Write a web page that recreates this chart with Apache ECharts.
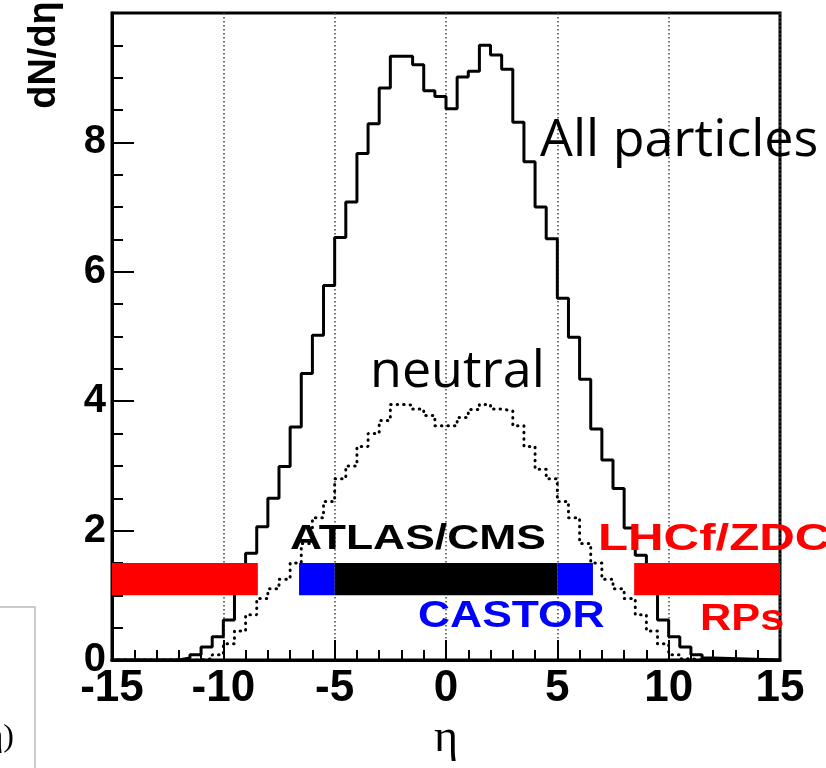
<!DOCTYPE html>
<html><head><meta charset="utf-8">
<script src="https://cdn.jsdelivr.net/npm/echarts@6/dist/echarts.min.js"></script>
<style>html,body{margin:0;padding:0;background:#fff}#c{width:826px;height:768px}</style>
</head><body><div id="c"></div>
<script>
// bin edges (eta) of the histograms
const etaEdges = [-12,-11.5,-11,-10.5,-10,-9.5,-9,-8.5,-8,-7.5,-7,-6.5,-6,-5.5,-5,-4.5,-4,-3.5,-3,-2.5,-2,-1.5,-1,-0.5,
  0,0.5,1,1.5,2,2.5,3,3.5,4,4.5,5,5.5,6,6.5,7,7.5,8,8.5,9,9.5,10,10.5,11,11.5,12];
// dN/deta, all particles (one value per bin)
const allParticles = [0.03,0.08,0.2,0.36,0.62,1.25,1.65,2.06,2.5,2.99,3.6,4.43,
  5.02,5.79,6.53,7.08,7.83,8.29,8.84,9.33,9.33,9.2,8.8,8.71,
  8.52,9.01,9.1,9.5,9.35,9.13,8.31,7.7,7.0,6.51,5.59,4.99,
  4.34,3.57,3.09,2.65,2.04,1.62,1.25,0.62,0.36,0.2,0.08,0.03];
// dN/deta, neutral particles
const neutral = [0,0,0.02,0.08,0.25,0.45,0.7,0.95,1.1,1.25,1.5,1.8,
  2.2,2.45,2.8,3.0,3.3,3.5,3.7,3.95,3.94,3.88,3.78,3.62,
  3.62,3.75,3.87,3.95,3.88,3.85,3.62,3.3,2.95,2.8,2.45,2.2,
  1.8,1.5,1.25,1.1,0.95,0.7,0.45,0.25,0.08,0.02,0,0];
// detector acceptance bands
const bandNames = ['LHCf/ZDC','CASTOR','ATLAS/CMS','CASTOR','LHCf/ZDC'];
const bandFrom = [-15,-6.6,-5,5,8.45];
const bandTo = [-8.45,-5,5,6.6,15];
const bandLow = [1.0,1.0,1.0,1.0,1.0];
const bandHigh = [1.5,1.5,1.5,1.5,1.5];
// tick labels
const xTickLabels = [-15,-10,-5,0,5,10,15];
const yTickLabels = [0,2,4,6,8];

const bandColors = {'LHCf/ZDC':'#ff0000','CASTOR':'#0000ff','ATLAS/CMS':'#000000'};

function histData(vals){
  const d = [[-15,0]];
  for (let i=0;i<vals.length;i++) d.push([etaEdges[i], vals[i]]);
  d.push([etaEdges[vals.length], 0]);
  d.push([15,0]);
  return d;
}

const chart = echarts.init(document.getElementById('c'));
const labelFont = 'Liberation Sans';
function txt(text, x, y, size, color, sx, weight, family, align){
  return {type:'text', x:x, y:y, scaleX:sx||1, z:100,
    style:{text:text, fontSize:size, fontWeight:weight||'bold', fontFamily:family||labelFont,
      fill:color, align:align||'left', textAlign:align||'left', verticalAlign:'middle', textVerticalAlign:'middle'}};
}
chart.setOption({
  animation:false,
  backgroundColor:'#fff',
  grid:{left:112, right:46, top:13, bottom:108, show:true, borderColor:'#000', borderWidth:3, backgroundColor:'transparent'},
  xAxis:{type:'value', min:-15, max:15, interval:5,
    name:'η', nameLocation:'middle', nameGap:44,
    nameTextStyle:{fontSize:46, fontFamily:'Liberation Serif', color:'#000'},
    axisLine:{show:true, onZero:false, lineStyle:{color:'#000', width:3}},
    axisTick:{show:true, inside:true, length:20, lineStyle:{color:'#000', width:2}},
    minorTick:{show:true, splitNumber:5, length:10, lineStyle:{color:'#000', width:2}},
    axisLabel:{show:true, margin:7, fontSize:44, fontWeight:'bold', fontFamily:labelFont, color:'#000',
      formatter:v=>xTickLabels.includes(v)?String(v):''},
    splitLine:{show:true, lineStyle:{color:'#444', width:1.5, type:[1.5,2.5]}}
  },
  yAxis:{type:'value', min:0, max:10, interval:2,
    axisLine:{show:true, onZero:false, lineStyle:{color:'#000', width:3}},
    axisTick:{show:true, inside:true, length:22, lineStyle:{color:'#000', width:2}},
    minorTick:{show:true, splitNumber:4, length:11, lineStyle:{color:'#000', width:2}},
    axisLabel:{show:true, margin:6, fontSize:40, fontWeight:'bold', fontFamily:labelFont, color:'#000',
      formatter:v=>yTickLabels.includes(v)?String(v):''},
    splitLine:{show:false}
  },
  series:[
    {name:'All particles', type:'line', step:'end', showSymbol:false, z:3,
      lineStyle:{color:'#000', width:3}, data:histData(allParticles)},
    {name:'neutral', type:'line', step:'end', showSymbol:false, z:3,
      lineStyle:{color:'#000', width:3, type:[0.5,6], cap:'round'}, data:histData(neutral)},
    {name:'detectors', type:'custom', z:5,
      data: bandFrom.map((f,i)=>[f, bandTo[i], bandLow[i], bandHigh[i]]),
      encode:{x:[0,1], y:[2,3]},
      renderItem:function(params, api){
        const p0 = api.coord([api.value(0), api.value(3)]);
        const p1 = api.coord([api.value(1), api.value(2)]);
        return {type:'rect', shape:{x:p0[0], y:p0[1], width:p1[0]-p0[0], height:p1[1]-p0[1]},
          style:{fill:bandColors[bandNames[params.dataIndex]]}};
      }}
  ],
  graphic:[
    {type:'text', x:45, y:55, rotation:Math.PI/2, z:100,
      style:{text:'dN/dη', fontSize:38, fontWeight:'bold', fontFamily:labelFont, fill:'#000',
        align:'center', textAlign:'center', verticalAlign:'middle', textVerticalAlign:'middle'}},
    txt('All particles', 540, 141, 52, '#000', 1, 'normal', 'Open Sans'),
    txt('neutral', 370, 372, 52, '#000', 1, 'normal', 'Open Sans'),
    txt('ATLAS/CMS', 290, 539, 35, '#000', 1.27),
    txt('CASTOR', 418, 617, 37, '#0000ff', 1.2),
    txt('LHCf/ZDC', 598, 540, 37, '#ff0000', 1.33),
    txt('RPs', 700, 620, 37, '#ff0000', 1.17),
    {type:'rect', z:1, shape:{x:-3, y:607, width:38, height:170},
      style:{fill:'none', stroke:'#bbb', lineWidth:1.5}},
    txt('(η)', 14, 738, 32, '#000', 1, 'normal', 'Liberation Serif', 'right')
  ]
});
</script></body></html>
